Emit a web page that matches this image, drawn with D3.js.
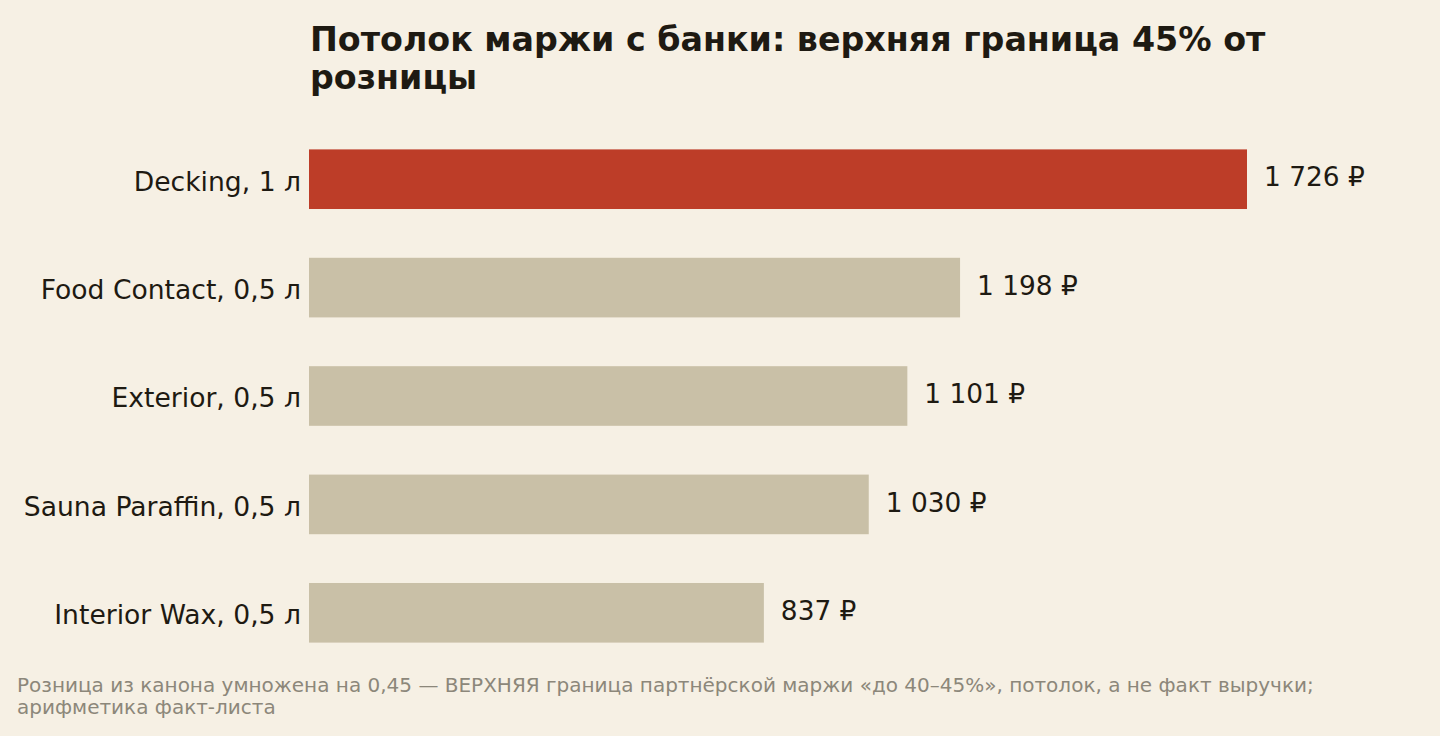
<!DOCTYPE html>
<html>
<head>
<meta charset="utf-8">
<script src="https://cdn.jsdelivr.net/npm/d3@7"></script>
<style>
  html, body { margin: 0; padding: 0; background: #f6f0e4; }
  svg { display: block; font-family: "DejaVu Sans", sans-serif; }
</style>
</head>
<body>
<svg id="chart"></svg>
<script>
// Data
var products = ['Decking, 1 л', 'Food Contact, 0,5 л', 'Exterior, 0,5 л', 'Sauna Paraffin, 0,5 л', 'Interior Wax, 0,5 л'];
var marginCap = [1726, 1198, 1101, 1030, 837];
var titleLines = ['Потолок маржи с банки: верхняя граница 45% от', 'розницы'];
var noteLines = ['Розница из канона умножена на 0,45 — ВЕРХНЯЯ граница партнёрской маржи «до 40–45%», потолок, а не факт выручки;', 'арифметика факт-листа'];

var width = 1440;
var height = 736;
var left = 309;
var barRight = 1247;
var top0 = 125;
var bottom0 = 667;

var svg = d3.select('#chart')
    .attr('width', width)
    .attr('height', height);

svg.append('rect')
    .attr('width', width)
    .attr('height', height)
    .attr('fill', '#f6f0e4');

var x = d3.scaleLinear()
    .domain([0, d3.max(marginCap)])
    .range([left, barRight]);

var y = d3.scaleBand()
    .domain(products)
    .range([top0, bottom0])
    .paddingInner(0.45)
    .paddingOuter(0.225);

var fmt = function (v) {
    return d3.format(',')(v).replace(/,/g, ' ') + ' ₽';
};

// Title
svg.append('text')
    .attr('x', 310)
    .attr('y', 51)
    .attr('fill', '#1e1a12')
    .style('font-size', '33.3px')
    .style('font-weight', 'bold')
    .selectAll('tspan')
    .data(titleLines)
    .enter()
    .append('tspan')
    .attr('x', 310)
    .attr('dy', function (d, i) { return i === 0 ? 0 : 38; })
    .text(function (d) { return d; });

// Bars
var rows = svg.append('g')
    .selectAll('g')
    .data(products)
    .enter()
    .append('g');

rows.append('rect')
    .attr('x', x(0))
    .attr('y', function (d) { return y(d); })
    .attr('width', function (d, i) { return x(marginCap[i]) - x(0); })
    .attr('height', y.bandwidth())
    .attr('fill', function (d, i) { return i === 0 ? '#bd3d28' : '#c9c0a7'; });

rows.append('text')
    .attr('x', function (d, i) { return x(marginCap[i]) + 17; })
    .attr('y', function (d) { return y(d) + y.bandwidth() / 2 - 2; })
    .attr('dy', '0.35em')
    .attr('fill', '#1e1a12')
    .style('font-size', '26.4px')
    .text(function (d, i) { return fmt(marginCap[i]); });

// Category labels
rows.append('text')
    .attr('x', 301)
    .attr('y', function (d) { return y(d) + y.bandwidth() / 2 + 2; })
    .attr('dy', '0.35em')
    .attr('text-anchor', 'end')
    .attr('fill', '#1e1a12')
    .style('font-size', '26.6px')
    .text(function (d) { return d; });

// Footnote
svg.append('text')
    .attr('fill', '#8c877a')
    .style('font-size', '20px')
    .selectAll('tspan')
    .data(noteLines)
    .enter()
    .append('tspan')
    .attr('x', 17)
    .attr('y', function (d, i) { return 692 + i * 22; })
    .text(function (d) { return d; });
</script>
</body>
</html>
